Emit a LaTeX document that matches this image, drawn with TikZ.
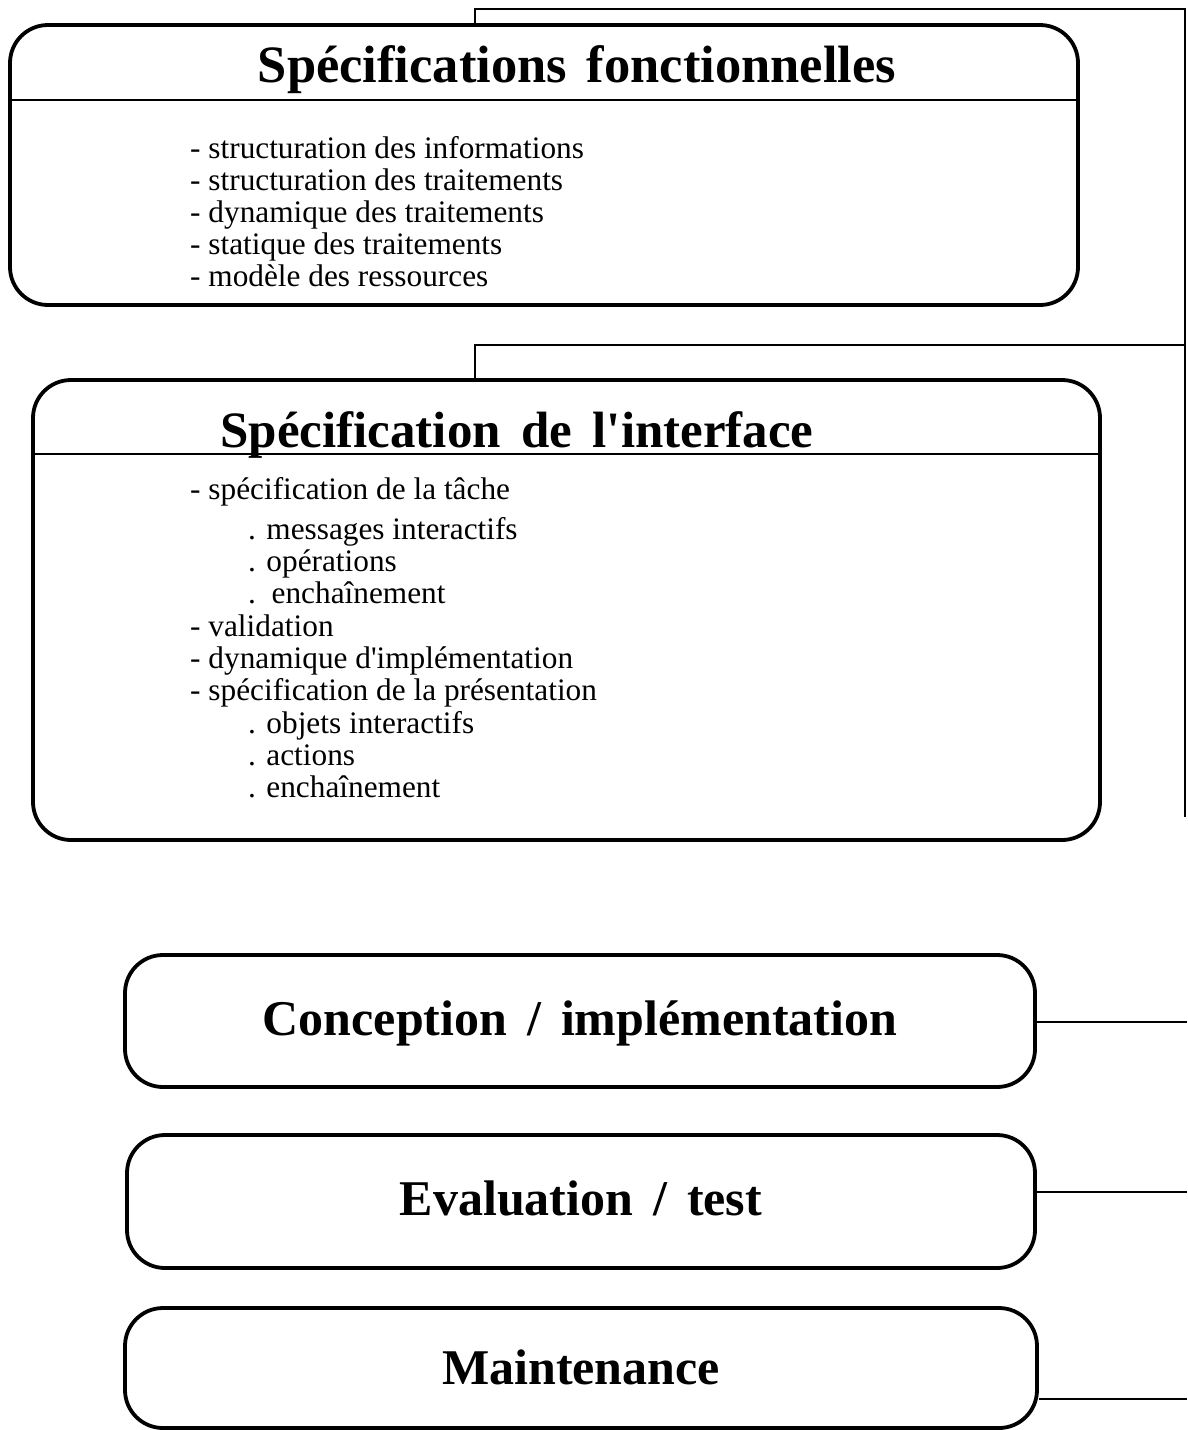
\documentclass[tikz,border=0pt]{standalone}
\usepackage{fontspec}
\setmainfont{Liberation Serif}
% wide word gap used in the stage titles
\newcommand\wgap{\hspace{0.4em}}
\begin{document}
\begin{tikzpicture}[x=1pt,y=-1pt,
  stage/.style={draw, line width=3.8pt, rounded corners=38pt, inner sep=0pt},
  sep/.style={line width=2.6pt},
  link/.style={line width=2.2pt},
  head/.style={font=\bfseries\fontsize{50}{50}\selectfont, anchor=base, inner sep=0pt},
  item/.style={font=\fontsize{31.3}{32}\selectfont, anchor=base west, inner sep=0pt}]
\useasboundingbox (0,0) rectangle (1187,1430);

% stage boxes
\node[stage, minimum width=1068pt, minimum height=280pt] (sf) at (544,165) {};
\node[stage, minimum width=1067pt, minimum height=460pt] (si) at (566.5,610) {};
\node[stage, minimum width=910pt, minimum height=132pt] (ci) at (580,1021) {};
\node[stage, minimum width=908pt, minimum height=133pt] (et) at (581,1201.5) {};
\node[stage, minimum width=912pt, minimum height=120pt] (mt) at (581,1368) {};

% header separators
\draw[sep] (sf.west |- 0,100) -- (sf.east |- 0,100);
\draw[sep] (si.west |- 0,454) -- (si.east |- 0,454);

% titles
\node[head, font=\bfseries\fontsize{52.5}{53}\selectfont] (sft) at (577,82)
  {Spécifications\hspace{0.38em}fonctionnelles};
\node[head, font=\bfseries\fontsize{51}{51}\selectfont] (sit) at (517,447)
  {Spécification\wgap de\wgap l\textquotesingle interface};
\node[head] (cit) at (580,1035) {Conception\wgap/\wgap implémentation};
\node[head] (ett) at (581,1215) {Evaluation\wgap/\wgap test};
\node[head] (mtt) at (581,1384) {Maintenance};

% contents of the first stage
\foreach \yy/\txt [count=\i] in {
  158/{- structuration des informations},
  190/{- structuration des traitements},
  222/{- dynamique des traitements},
  254/{- statique des traitements},
  286/{- modèle des ressources}}
  \node[item] (sfl\i) at (190,\yy) {\txt};

% contents of the second stage
\foreach \yy/\xx/\txt [count=\i] in {
  499/190/{- spécification de la tâche},
  539/248/{. messages interactifs},
  571/248/{. opérations},
  603/248/{.\ \ enchaînement},
  636/190/{- validation},
  668/190/{- dynamique d\textquotesingle implémentation},
  700/190/{- spécification de la présentation},
  733/248/{. objets interactifs},
  765/248/{. actions},
  797/248/{. enchaînement}}
  \node[item] (sil\i) at (\xx,\yy) {\txt};

% connectors
\coordinate (tl) at (475,9);
\coordinate (tr) at (1185,9);
\coordinate (rb) at (1185,817);
\draw[link] (sf.north -| tl) -- (tl) -- (tr) -- (rb);
\coordinate (ml) at (475,345);
\coordinate (mr) at (1185,345);
\draw[link] (si.north -| ml) -- (ml) -- (mr);
\coordinate (c1) at (1187,1022);
\coordinate (c2) at (1187,1192);
\coordinate (c3) at (1187,1399);
\draw[link] (ci.east |- c1) -- (c1);
\draw[link] (et.east |- c2) -- (c2);
\draw[link] (mt.east |- c3) -- (c3);
\end{tikzpicture}
\end{document}
